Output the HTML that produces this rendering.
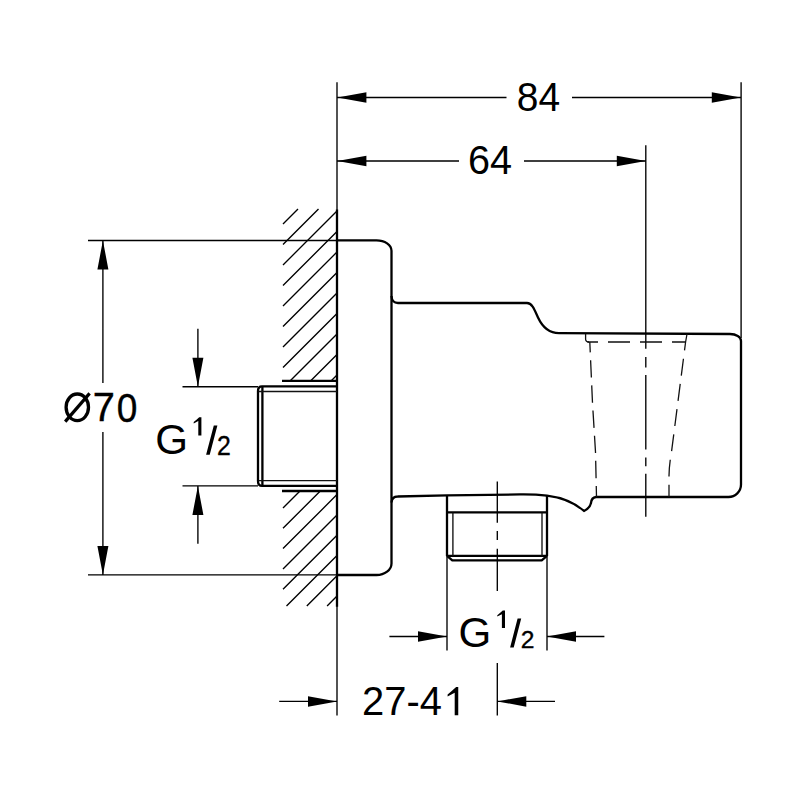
<!DOCTYPE html>
<html><head><meta charset="utf-8"><style>
html,body{margin:0;padding:0;background:#fff;width:800px;height:800px;overflow:hidden}
svg{display:block}
text{font-family:"Liberation Sans",sans-serif;fill:#000}
</style></head><body>
<svg width="800" height="800" viewBox="0 0 800 800">
<rect width="800" height="800" fill="#fff"/>
<g fill="none" stroke="#000" stroke-width="1.35">
<path d="M337 82.2V715.4M741.1 82.2V338M645.8 145.3V348.8M645.8 356.9V367.5M645.8 375V449.4M645.8 457.5V466.2M645.8 473.8V516.8"/>
<path d="M88 240.5H337M88 574.9H337M182.5 386.7H258M182.5 485.9H258"/>
<path d="M447 556V650.6M547 556V650.6"/>
<path d="M497.3 481.4V522.8M497.3 531V540M497.3 548.8V591M497.3 663V715.4"/>
<path d="M337 97.45H506.5M572 97.45H741M337 161H459M524 161H645.9"/>
<path d="M102.9 240.5V383M102.9 432V574.9M197.9 328.8V386.7M197.9 485.9V543.8"/>
<path d="M389.4 636.45H447M547 636.45H604.4M279.2 701.4H337M497.3 701.4H555"/>
<path d="M283 224.0L298.0 209M283 244.5L318.5 209M283 265.0L337 211.0M283 285.5L337 231.5M283 306.0L337 252.0M283 326.5L337 272.5M283 347.0L337 293.0M283 367.5L337 313.5M290.0 381L337 334.0M310.5 381L337 354.5M331.0 381L337 375.0M283 508.0L300.0 491M283 528.3L320.3 491M283 548.6L337 494.6M283 568.9L337 514.9M283 589.2L337 535.2M286.5 606L337 555.5M306.8 606L337 575.8M327.1 606L337 596.1"/>
</g>
<g fill="#000" stroke="none"><path d="M337.4 97.45L366.4 92.2L366.4 102.7ZM740.8 97.45L711.8 92.2L711.8 102.7ZM337.4 161L366.4 155.75L366.4 166.25ZM645.8 161L616.8 155.75L616.8 166.25ZM102.9 240.5L97.4 269.5L108.4 269.5ZM102.9 574.9L97.4 545.9L108.4 545.9ZM197.9 386.7L192.4 357.7L203.4 357.7ZM197.9 485.9L192.4 514.9L203.4 514.9ZM447 636.45L418 631.2L418 641.7ZM547 636.45L576 631.2L576 641.7ZM337 701.4L308 696.15L308 706.65ZM497.3 701.4L526.3 696.15L526.3 706.65Z"/><path d="M206.1 454.8H209.7L217.4 425.4H213.8ZM510.1 647.6H513.7L521.2 618.4H517.6ZM458.25 686.90V715.30H454.70V692.81L447.60 696.61V694.40Q451.29 691.44 456.12 686.90ZM201.40 417.30V435.40H198.30V421.06L193.70 423.49V422.08Q196.13 420.20 199.21 417.30ZM505.00 610.60V628.00H501.90V614.22L497.30 616.55V615.19Q499.81 613.38 502.77 610.60Z"/></g>
<g fill="none" stroke="#000" stroke-width="2.3" stroke-linejoin="round">
<path d="M337 209.5V606.7"/>
<path d="M282 380.9H337M282 491H337"/>
<path d="M337 386.3H262Q258 386.3 258 391V481Q258 485.9 262 485.9H337"/>
<path d="M262.4 386.3V485.9"/>
<path d="M337 240.3H376.5A15 10.5 0 0 1 391.5 250.8V563.5A15 11.5 0 0 1 376.5 575H337"/>
<path d="M391.5 296Q391.9 303 398 303H527C532.5 303 535 311 538 317.5C542 326 549 333.2 559 333.2L730 334A11 7 0 0 1 741 341V484.5A12.5 12.5 0 0 1 728.5 497H596Q591.5 497.5 591 503Q590 508 584 511Q570 498.5 547 495.6Q535 494.2 520 494.4L447 495.4L397.6 496.5Q391.9 496.5 391.5 502.5"/>
<path d="M447 495.4V555.9M547 495.6V555.9M447 512.45H547M447 555.9H547M447 555.9L452.3 560.4H541.7L547 555.9"/>
</g>
<g fill="none" stroke="#111" stroke-width="1.35">
<path d="M258.5 391.5H337M258.5 480.6H337"/>
<path d="M452.9 512.4V556M542 512.4V556"/>
</g>
<g fill="none" stroke="#111" stroke-width="1.3">
<path d="M585.6 334V339.5Q585.8 342 589 342M687 334L685.6 342"/>
<path d="M587.5 342H685.8" stroke-dasharray="22 10" stroke-dashoffset="11.5"/>
<path d="M589.8 342L592.5 403L595.5 452L596.5 497" stroke-dasharray="17.4 7.8" stroke-dashoffset="7"/>
<path d="M685.6 342L671.5 452Q669 466 669 476V497" stroke-dasharray="17 8.4" stroke-dashoffset="8.5"/>
</g>
<g><text transform="translate(516.75 111.39) scale(0.960 1)" font-size="40.56">84</text><text transform="translate(468.02 174.39) scale(0.977 1)" font-size="40.56">64</text><text transform="translate(92.71 421.40) scale(0.991 1)" font-size="40.14" stroke="#000" stroke-width="0.4">7</text><text transform="translate(116.72 421.59) scale(0.901 1)" font-size="41.13" stroke="#000" stroke-width="0.4">0</text><ellipse cx="77.3" cy="407.3" rx="11.2" ry="13.3" fill="none" stroke="#000" stroke-width="3.3"/><path d="M65.2 421.6L89.6 393.4" stroke="#000" stroke-width="3.2"/><text transform="translate(362.01 715.40) scale(0.975 1)" font-size="40.93">27-4</text><text transform="translate(155.19 454.37) scale(0.991 1)" font-size="42.54">G</text><text transform="translate(217.06 454.80) scale(0.925 1)" font-size="26.86" stroke="#000" stroke-width="0.35">2</text><text transform="translate(458.49 647.33) scale(1.002 1)" font-size="42.04">G</text><text transform="translate(520.77 647.50) scale(1.051 1)" font-size="23.43" stroke="#000" stroke-width="0.35">2</text></g>
</svg>
</body></html>
